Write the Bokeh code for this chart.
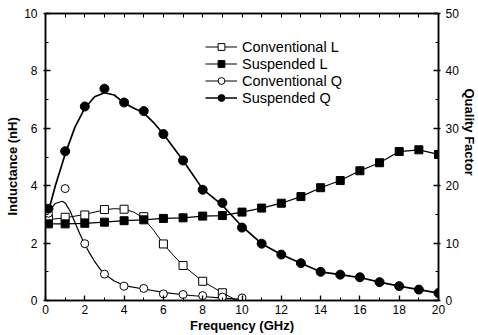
from bokeh.embed import file_html
from bokeh.models import FixedTicker, Legend, LegendItem, LinearAxis, Range1d, Title
from bokeh.plotting import figure
from bokeh.resources import INLINE

# ---- measured data -------------------------------------------------------
freq = [0.15, 1, 2, 3, 4, 5, 6, 7, 8, 9, 10, 11, 12, 13, 14, 15, 16, 17, 18, 19, 20]
susp_L = [2.67, 2.67, 2.69, 2.73, 2.78, 2.81, 2.86, 2.88, 2.94, 2.96, 3.08,
          3.22, 3.39, 3.62, 3.93, 4.18, 4.52, 4.80, 5.19, 5.25, 5.09]
susp_Q = [16.0, 26.0, 33.8, 36.9, 34.5, 33.0, 29.0, 24.4, 19.3, 17.0, 12.7,
          9.9, 8.0, 6.5, 5.0, 4.5, 4.05, 3.2, 2.5, 1.9, 1.3]

conv_L_freq = [0.15, 1, 2, 3, 4, 5, 6, 7, 8, 9]
conv_L = [2.85, 2.90, 2.98, 3.17, 3.18, 2.92, 1.97, 1.22, 0.67, 0.27]
conv_Q_freq = [0.15, 1, 2, 3, 4, 5, 6, 7, 8, 9, 10]
conv_Q = [15.2, 19.5, 9.9, 4.6, 2.5, 2.1, 1.15, 1.05, 0.85, 0.6, 0.45]

# ---- fitted trend lines --------------------------------------------------
conv_L_fit_freq = [0.15, 1, 2, 3, 3.5, 4, 4.5, 5, 5.5, 6, 6.5, 7, 8, 9, 9.75]
conv_L_fit = [2.82, 2.88, 3.00, 3.16, 3.20, 3.18, 3.08, 2.86, 2.45, 1.97, 1.58, 1.22, 0.67, 0.27, 0.0]

conv_Q_fit_freq = [0.15, 0.5, 0.85, 1.0, 1.25, 1.5, 1.75, 2.0, 2.25, 2.5, 2.75, 3.0,
                   3.5, 4, 5, 6, 7, 8, 9, 10]
conv_Q_fit = [15.4, 16.9, 17.3, 17.0, 15.6, 13.6, 11.6, 9.8, 8.2, 6.8, 5.6, 4.6,
              3.4, 2.6, 2.0, 1.4, 1.0, 0.7, 0.4, 0.2]

susp_Q_fit_freq = [0.15, 0.5, 1, 1.5, 2, 2.5, 3, 3.5, 4, 4.5, 5, 5.5, 6, 7, 8, 9, 10,
                   11, 12, 13, 14, 15, 16, 17, 18, 19, 20]
susp_Q_fit = [15.5, 20.0, 25.5, 30.2, 33.5, 35.5, 36.2, 35.8, 34.4, 33.5, 32.7, 31.0,
              29.0, 24.4, 19.4, 16.6, 12.9, 9.9, 8.0, 6.5, 5.0, 4.5, 4.0, 3.2, 2.5, 1.9, 1.3]

x_ticks = [0, 2, 4, 6, 8, 10, 12, 14, 16, 18, 20]
L_ticks = [0, 2, 4, 6, 8, 10]
Q_ticks = [0, 10, 20, 30, 40, 50]

FONT = "Liberation Sans"

p = figure(width=478, height=335, output_backend="svg", toolbar_location=None,
           x_range=Range1d(0, 20), y_range=Range1d(0, 10),
           x_axis_location=None, y_axis_location=None,
           min_border_left=45, min_border_right=40, min_border_top=13, min_border_bottom=35)
p.extra_y_ranges = {"q": Range1d(0, 50)}
p.grid.visible = False
p.outline_line_color = "black"
p.outline_line_width = 1.5
p.background_fill_color = "white"
p.border_fill_color = "white"


def style_axis(ax, tick_out):
    ax.axis_line_width = 1.5
    ax.axis_line_color = "black"
    ax.major_tick_line_width = 1.3
    ax.minor_tick_line_width = 1.0
    ax.major_tick_in = 5
    ax.major_tick_out = tick_out
    ax.minor_tick_in = 3
    ax.minor_tick_out = 0
    ax.major_label_text_font = FONT
    ax.major_label_text_font_size = "12px"
    ax.major_label_text_color = "black"
    ax.major_label_standoff = 5


bottom = LinearAxis(ticker=FixedTicker(ticks=x_ticks, minor_ticks=list(range(21))))
style_axis(bottom, 0)
bottom.major_label_standoff = 4
bottom.axis_label = "Frequency (GHz)"
bottom.axis_label_text_font = FONT
bottom.axis_label_text_font_size = "13px"
bottom.axis_label_text_font_style = "bold"
bottom.axis_label_text_color = "black"
bottom.axis_label_standoff = 1

# top edge: tick marks only, every 1 GHz
top = LinearAxis(ticker=FixedTicker(ticks=[], minor_ticks=list(range(21))))
style_axis(top, 0)
top.minor_tick_in = 4

left = LinearAxis(ticker=FixedTicker(ticks=L_ticks, minor_ticks=list(range(11))))
style_axis(left, 2)
left.major_label_standoff = 6
right = LinearAxis(y_range_name="q",
                   ticker=FixedTicker(ticks=Q_ticks, minor_ticks=list(range(0, 51, 5))))
style_axis(right, 2)
right.major_label_standoff = 5

p.add_layout(bottom, "below")
p.add_layout(top, "above")
p.add_layout(left, "left")
p.add_layout(right, "right")

# side titles
title_kw = dict(text_font=FONT, text_font_size="13px", text_font_style="bold",
                text_color="black", align="left")
p.add_layout(Title(text="Inductance (nH)", offset=85, standoff=4, **title_kw), "left")
p.add_layout(Title(text="Quality Factor", offset=75, standoff=0, **title_kw), "right")

# trend lines
l_cL = p.line(conv_L_fit_freq, conv_L_fit, line_color="black", line_width=1.0)
l_sL = p.line(freq, susp_L, line_color="black", line_width=1.2)
l_cQ = p.line(conv_Q_fit_freq, conv_Q_fit, line_color="black", line_width=1.2, y_range_name="q")
l_sQ = p.line(susp_Q_fit_freq, susp_Q_fit, line_color="black", line_width=1.7, y_range_name="q")

# measured points
m_cL = p.scatter(conv_L_freq, conv_L, marker="square", size=8, fill_color="white",
                 line_color="black", line_width=1)
m_sL = p.scatter(freq, susp_L, marker="square", size=8, fill_color="black",
                 line_color="black", line_width=1)
m_cQ = p.scatter(conv_Q_freq, conv_Q, marker="circle", size=8, fill_color="white",
                 line_color="black", line_width=1, y_range_name="q")
m_sQ = p.scatter(freq, susp_Q, marker="circle", size=9, fill_color="black",
                 line_color="black", line_width=1, y_range_name="q")

legend = Legend(items=[
    LegendItem(label="Conventional L", renderers=[l_cL, m_cL]),
    LegendItem(label="Suspended L", renderers=[l_sL, m_sL]),
    LegendItem(label="Conventional Q", renderers=[l_cQ, m_cQ]),
    LegendItem(label="Suspended Q", renderers=[l_sQ, m_sQ]),
])
legend.location = (160, 194)
legend.glyph_width = 32
legend.glyph_height = 17
legend.label_height = 17
legend.label_width = 20
legend.spacing = 0
legend.padding = 0
legend.margin = 0
legend.label_standoff = 5
legend.border_line_color = None
legend.background_fill_alpha = 0
legend.label_text_font = FONT
legend.label_text_font_size = "14.5px"
legend.label_text_color = "black"
p.add_layout(legend)

open("out.html", "w").write(file_html(p, INLINE))
